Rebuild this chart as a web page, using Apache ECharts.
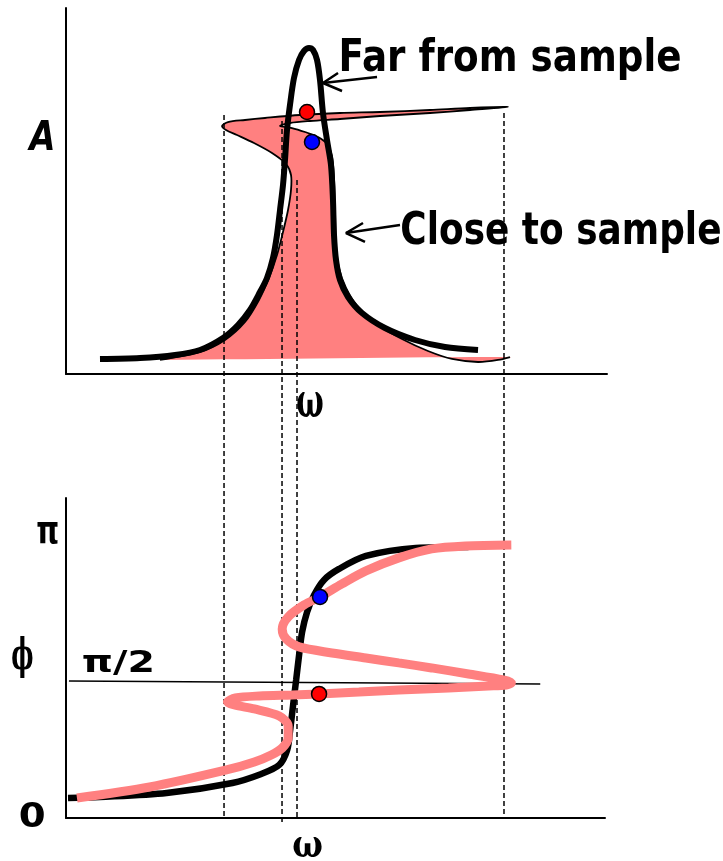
<!DOCTYPE html>
<html>
<head>
<meta charset="utf-8">
<script src="https://cdn.jsdelivr.net/npm/echarts@6/dist/echarts.min.js"></script>
<style>
html, body { margin: 0; padding: 0; background: #fff; }
#chart { width: 723px; height: 861px; }
</style>
</head>
<body>
<div id="chart"></div>
<script>
// amplitude vs omega, far from sample (black lorentzian)
var farW = [6.28, 13.68, 20.15, 24.77, 29.02, 31.79, 34.01, 35.86, 37.15, 38.26, 39.00, 39.56, 40.11, 40.48, 40.85, 41.40, 42.14, 43.07, 43.99, 44.92, 45.66, 46.40, 46.95, 47.50, 48.24, 48.98, 49.35, 49.54, 49.91, 50.65, 52.13, 54.71, 58.96, 64.51, 70.06, 76.16];
var farA = [4.10, 4.37, 5.19, 6.56, 9.84, 13.39, 17.49, 22.40, 26.23, 31.69, 37.98, 44.81, 51.64, 58.47, 66.67, 73.50, 80.87, 85.79, 88.25, 89.07, 88.52, 85.79, 80.33, 71.31, 63.93, 57.10, 47.54, 37.98, 31.15, 25.68, 21.04, 16.67, 12.57, 9.29, 7.38, 6.56];

// amplitude, close to sample (folded pink curve)
var closeW = [17.38, 24.77, 29.39, 33.09, 35.67, 37.52, 39.00, 40.11, 41.04, 41.59, 41.59, 40.67, 38.08, 34.75, 31.61, 29.57, 28.84, 29.94, 33.09, 36.78, 43.25, 50.65, 58.04, 67.28, 74.68, 81.70, 74.68, 67.28, 58.04, 50.65, 45.10, 41.40, 39.56, 41.77, 44.18, 46.58, 48.24, 49.17, 49.54, 49.72, 49.91, 50.46, 51.76, 53.97, 57.67, 62.11, 66.91, 71.35, 76.16, 79.85, 82.07];
var closeA = [3.83, 6.01, 9.29, 14.21, 20.22, 26.23, 32.51, 38.80, 44.81, 50.27, 54.37, 57.38, 60.38, 63.11, 65.30, 66.67, 67.76, 68.85, 69.40, 69.95, 70.77, 71.31, 71.58, 72.13, 72.68, 72.95, 72.13, 71.31, 70.49, 69.67, 69.13, 68.58, 67.76, 67.21, 66.12, 64.75, 62.84, 59.56, 53.55, 44.81, 35.25, 28.96, 23.50, 18.31, 13.39, 9.56, 6.28, 4.10, 3.28, 3.83, 4.64];
var closeBase = 3.83;

// phase (in units of pi)
var phaseFarW = [0.37, 6.28, 18.67, 30.87, 36.23, 39.56, 41.04, 41.59, 42.14, 42.70, 43.25, 43.81, 44.73, 46.03, 47.87, 50.65, 55.64, 64.88, 74.68];
var phaseFarY = [0.0735, 0.0772, 0.0919, 0.1287, 0.1618, 0.1949, 0.2500, 0.3235, 0.4154, 0.5074, 0.5993, 0.6838, 0.7574, 0.8199, 0.8750, 0.9154, 0.9632, 0.9926, 0.9963];
var phaseCloseW = [2.03, 15.53, 29.76, 34.94, 38.08, 40.11, 41.22, 41.22, 39.56, 34.94, 31.24, 29.94, 31.42, 35.86, 41.96, 46.95, 54.34, 61.74, 70.98, 78.37, 81.70, 82.62, 81.15, 74.68, 67.84, 61.74, 55.64, 49.35, 43.25, 40.85, 40.11, 41.22, 44.18, 47.13, 51.20, 55.64, 61.74, 67.84, 74.12, 82.62];
var phaseCloseY = [0.0735, 0.1140, 0.1765, 0.2059, 0.2316, 0.2574, 0.2941, 0.3382, 0.3750, 0.4007, 0.4154, 0.4265, 0.4412, 0.4485, 0.4522, 0.4559, 0.4632, 0.4706, 0.4779, 0.4853, 0.4890, 0.4963, 0.5074, 0.5294, 0.5515, 0.5699, 0.5882, 0.6066, 0.6287, 0.6581, 0.6949, 0.7390, 0.7831, 0.8125, 0.8603, 0.9081, 0.9559, 0.9890, 1.0000, 1.0037];
var halfPiW = [0.55, 87.99];
var halfPiY = [0.5037, 0.4926];

// operating points
var topRed = [44.55, 71.58], topBlue = [45.47, 63.39];
var botRed = [46.95, 0.4559], botBlue = [47.13, 0.8125];

// dashed guide lines (overlay 0..100 over both panels)
var dashW = [29.21, 39.93, 42.70, 80.96];
var dashTop = [86.98, 86.25, 79.08, 87.23];
var dashBottom = [1.58, 0.97, 1.58, 1.82];

// label arrows: tail, tip, wing, wing
var farArrow = [[57.49, 81.15], [47.50, 79.51], [50.28, 82.24], [51.02, 77.32]];
var closeArrow = [[61.74, 40.71], [51.76, 38.52], [54.90, 41.26], [55.27, 36.07]];

var PINK = '#ff8080';

function zip(xs, ys) {
    return xs.map(function (x, i) { return [x, ys[i]]; });
}

var ctx = document.createElement('canvas').getContext('2d');
// fit a text label inside an ink box [left, top, right, bottom]
function label(str, font, box) {
    ctx.font = font;
    ctx.textBaseline = 'middle';
    ctx.textAlign = 'left';
    var m = ctx.measureText(str);
    var sx = (box[2] - box[0]) / (m.actualBoundingBoxLeft + m.actualBoundingBoxRight);
    var sy = (box[3] - box[1]) / (m.actualBoundingBoxAscent + m.actualBoundingBoxDescent);
    return {
        type: 'text',
        x: box[0] + sx * m.actualBoundingBoxLeft,
        y: box[1] + sy * m.actualBoundingBoxAscent,
        scaleX: sx,
        scaleY: sy,
        style: { text: str, font: font, fill: '#000', textAlign: 'left', textVerticalAlign: 'middle' }
    };
}

function closeShape(kind) {
    return function (params, api) {
        var pts = closeW.map(function (w, i) { return api.coord([w, closeA[i]]); });
        if (kind === 'fill') {
            pts.push(api.coord([closeW[0], closeBase]));
            return { type: 'polygon', shape: { points: pts, smooth: 0.3 }, style: { fill: PINK } };
        }
        return { type: 'polyline', shape: { points: pts, smooth: 0.3 }, style: { stroke: '#000', lineWidth: 1.8, fill: null } };
    };
}

function axisPair(idx, ymax, show) {
    var line = { show: show, onZero: false, lineStyle: { color: '#000', width: 2 } };
    return {
        x: { type: 'value', gridIndex: idx, min: 0, max: 100, axisLine: line, axisTick: { show: false }, axisLabel: { show: false }, splitLine: { show: false } },
        y: { type: 'value', gridIndex: idx, min: 0, max: ymax, axisLine: line, axisTick: { show: false }, axisLabel: { show: false }, splitLine: { show: false } }
    };
}
var ax0 = axisPair(0, 100, true), ax1 = axisPair(1, 1.176, true), ax2 = axisPair(2, 100, false);

function lineSeries(xi, data, color, width, z, extra) {
    var s = {
        type: 'line', xAxisIndex: xi, yAxisIndex: xi, data: data, symbol: 'none', z: z,
        lineStyle: { color: color, width: width }, silent: true
    };
    for (var k in extra) s[k] = extra[k];
    return s;
}

function dot(xi, p, color) {
    return {
        type: 'scatter', xAxisIndex: xi, yAxisIndex: xi, data: [p], symbolSize: 15, z: 10,
        itemStyle: { color: color, borderColor: '#000', borderWidth: 1.5, opacity: 1 }
    };
}

var series = [
    { type: 'custom', xAxisIndex: 0, yAxisIndex: 0, data: [[closeW[0], closeA[0]]], renderItem: closeShape('fill'), z: 1, silent: true },
    { type: 'custom', xAxisIndex: 0, yAxisIndex: 0, data: [[closeW[0], closeA[0]]], renderItem: closeShape('line'), z: 4, silent: true },
    lineSeries(0, zip(farW, farA), '#000', 6, 5, { smooth: 0.3 }),
    lineSeries(0, [farArrow[0], farArrow[1]], '#000', 2.5, 5),
    lineSeries(0, [farArrow[2], farArrow[1], farArrow[3]], '#000', 2.5, 5),
    lineSeries(0, [closeArrow[0], closeArrow[1]], '#000', 2.5, 5),
    lineSeries(0, [closeArrow[2], closeArrow[1], closeArrow[3]], '#000', 2.5, 5),
    lineSeries(1, zip(halfPiW, halfPiY), '#000', 1.5, 3),
    lineSeries(1, zip(phaseFarW, phaseFarY), '#000', 6.5, 5, { smooth: 0.3 }),
    lineSeries(1, zip(phaseCloseW, phaseCloseY), PINK, 9, 6, { smooth: 0.3 }),
    dot(0, topRed, '#ff0000'),
    dot(0, topBlue, '#0000ff'),
    dot(1, botRed, '#ff0000'),
    dot(1, botBlue, '#0000ff')
];
dashW.forEach(function (w, i) {
    series.push(lineSeries(2, [[w, dashTop[i]], [w, dashBottom[i]]], '#000', 1.5, 3, { lineStyle: { color: '#000', width: 1.5, type: [5, 3] } }));
});

var chart = echarts.init(document.getElementById('chart'), null, { renderer: 'canvas' });
chart.setOption({
    animation: false,
    backgroundColor: '#fff',
    grid: [
        { left: 66, right: 116, top: 8, height: 366 },
        { left: 66, right: 118, top: 498, height: 320 },
        { left: 66, right: 116, top: 8, height: 822 }
    ],
    xAxis: [ax0.x, ax1.x, ax2.x],
    yAxis: [ax0.y, ax1.y, ax2.y],
    series: series,
    graphic: [
        label('Far from sample', 'bold 44px "DejaVu Sans"', [342, 37, 680, 80]),
        label('Close to sample', 'bold 44px "DejaVu Sans"', [402, 210, 720, 253]),
        label('A', 'italic bold 40px "DejaVu Sans"', [27, 120, 53, 150]),
        label('ω', 'bold 40px "DejaVu Serif"', [297, 393, 323, 417]),
        label('ω', 'bold 40px "DejaVu Serif"', [293, 837, 322, 857]),
        label('π', 'bold 36px "DejaVu Sans"', [37, 522, 58, 543]),
        label('ϕ', 'bold 36px "DejaVu Serif"', [12, 637, 33, 677]),
        label('π/2', 'bold 34px "DejaVu Sans"', [83, 650, 152, 675]),
        label('0', 'bold 34px "DejaVu Sans"', [20, 802, 45, 827])
    ]
});
</script>
</body>
</html>
